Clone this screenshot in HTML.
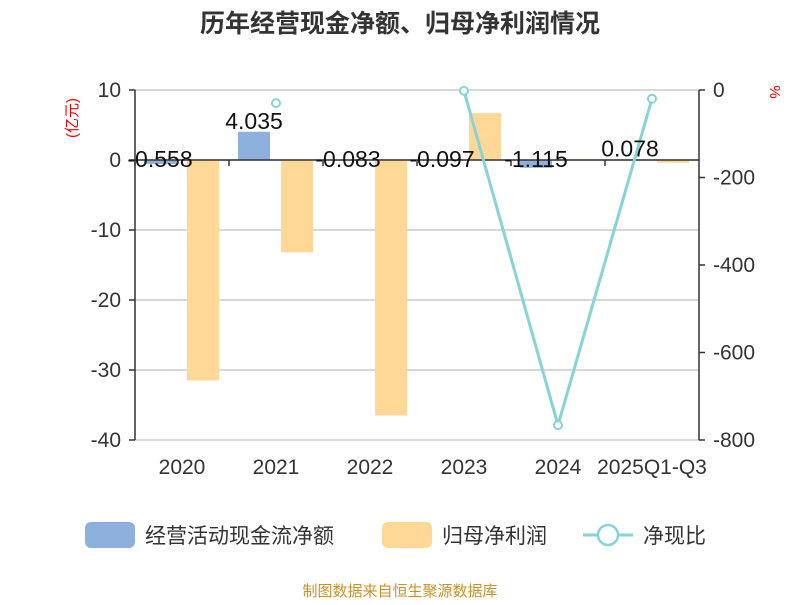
<!DOCTYPE html>
<html><head><meta charset="utf-8"><style>
body{margin:0;background:#fff}
svg{font-family:"Liberation Sans","Noto Sans CJK SC",sans-serif}
</style></head><body>
<svg width="800" height="600" id="c">
<text x="400" y="32" text-anchor="middle" font-size="25" font-weight="bold" fill="#333">历年经营现金净额、归母净利润情况</text>
<text transform="translate(77,118) rotate(-90)" text-anchor="middle" font-size="15" fill="#e00">(亿元)</text>
<text transform="translate(770,92) rotate(90)" text-anchor="middle" font-size="15" fill="#e00">%</text>
<g id="grid"></g><g id="bars"></g><g id="axes"></g><g id="line"></g><g id="labels"></g>
<g>
<rect x="85" y="522" width="50" height="26" rx="6" fill="#8eb0dc"/>
<text x="145" y="543" font-size="21" fill="#333">经营活动现金流净额</text>
<rect x="382" y="522" width="50" height="26" rx="6" fill="#ffd898"/>
<text x="442" y="543" font-size="21" fill="#333">归母净利润</text>
<line x1="583" y1="535" x2="633" y2="535" stroke="#86d4d8" stroke-width="3"/>
<circle cx="608" cy="535" r="10" fill="#fff" stroke="#86d4d8" stroke-width="2.5"/>
<text x="643" y="543" font-size="21" fill="#333">净现比</text>
</g>
<text x="400" y="596" text-anchor="middle" font-size="15" fill="#c8922a">制图数据来自恒生聚源数据库</text>
</svg>
<script>
const categories=["2020","2021","2022","2023","2024","2025Q1-Q3"];
const cashflow=[-0.558,4.035,-0.083,-0.097,-1.115,0.078];
const profit=[-31.5,-13.2,-36.5,6.7,0.1,-0.4];
const ratio=[null,-30,null,-2,-766,-20];
const leftTicks=[10,0,-10,-20,-30,-40];
const rightTicks=[0,-200,-400,-600,-800];
const NS="http://www.w3.org/2000/svg";
const X0=135,X1=699,step=(X1-X0)/categories.length;
const yL=v=>160-v*7, yR=v=>90-v*0.4375, xC=i=>X0+step*(i+0.5);
function mk(p,t,a){const e=document.createElementNS(NS,t);for(const k in a)e.setAttribute(k,a[k]);document.getElementById(p).appendChild(e);return e;}
leftTicks.forEach(v=>{
 const g=mk('grid','line',{x1:X0,x2:X1,y1:yL(v),y2:yL(v),stroke:'#ccc','stroke-width':1.5});
 
 
 const t=mk('axes','text',{x:X0-14,y:yL(v)+7,'text-anchor':'end','font-size':21,fill:'#333'});t.textContent=v;
 
 
 mk('axes','line',{x1:X0-6,x2:X0,y1:yL(v),y2:yL(v),stroke:'#333','stroke-width':1.5});
});
rightTicks.forEach(v=>{
 const t=mk('axes','text',{x:X1+14,y:yR(v)+7,'font-size':21,fill:'#333'});t.textContent=v;
 
 
 mk('axes','line',{x1:X1,x2:X1+6,y1:yR(v),y2:yR(v),stroke:'#333','stroke-width':1.5});
});
mk('axes','line',{x1:X0,x2:X0,y1:90,y2:440,stroke:'#333','stroke-width':1.5});
mk('axes','line',{x1:X1,x2:X1,y1:90,y2:440,stroke:'#333','stroke-width':1.5});
mk('axes','line',{x1:X0,x2:X1,y1:yL(0),y2:yL(0),stroke:'#333','stroke-width':1.5});
categories.forEach((c,i)=>{
 mk('axes','line',{x1:X0+step*i,x2:X0+step*i,y1:160,y2:166,stroke:'#333','stroke-width':1.5});
 const t=mk('axes','text',{x:xC(i),y:474,'text-anchor':'middle','font-size':21,fill:'#333'});t.textContent=c;
 
 
 const v=cashflow[i],w=32;
 const b=mk('bars','rect',{x:xC(i)-22-w/2,y:Math.min(yL(v),yL(0)),width:w,height:Math.abs(yL(v)-yL(0)),fill:'#8eb0dc'});
 
 
 const p=profit[i];
 const b2=mk('bars','rect',{x:xC(i)+21-w/2,y:Math.min(yL(p),yL(0)),width:w,height:Math.abs(yL(p)-yL(0)),fill:'#ffd898'});
 
 
 const l=mk('labels','text',{x:xC(i)-22,y:yL(Math.max(v,0))-3+(v<0?10:0),'text-anchor':'middle','font-size':23,fill:'#111'});l.textContent=v.toFixed(3);
 
 
});
let d='',prev=false;
ratio.forEach((v,i)=>{if(v===null){prev=false;return;}d+=(prev?'L':'M')+xC(i)+' '+yR(v)+' ';prev=true;});
const pl=mk('line','path',{d:d,fill:'none',stroke:'#86d4d8','stroke-width':3});


ratio.forEach((v,i)=>{if(v===null)return;
 const c=mk('line','circle',{cx:xC(i),cy:yR(v),r:4,fill:'#fff',stroke:'#86d4d8','stroke-width':2});
 
 
});
</script>
</body></html>
